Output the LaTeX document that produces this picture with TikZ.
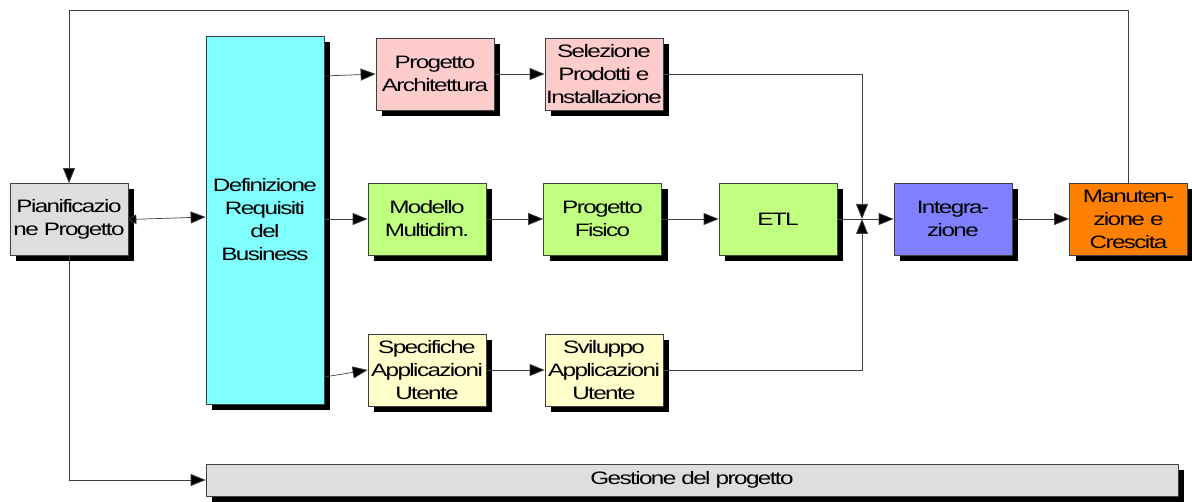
\documentclass[tikz,border=0pt]{standalone}
\usepackage{fontspec}
\usetikzlibrary{arrows.meta,shadows}
\newfontfamily\boxfont[FakeStretch=1.35,LetterSpace=-9]{Liberation Sans}
\definecolor{cyanfill}{HTML}{80FFFF}
\definecolor{pinkfill}{HTML}{FFCCCC}
\definecolor{greenfill}{HTML}{C0FF80}
\definecolor{bluefill}{HTML}{8080FF}
\definecolor{orangefill}{HTML}{FF8000}
\definecolor{yellowfill}{HTML}{FFFFCC}
\definecolor{grayfill}{HTML}{DEDEDE}
\definecolor{edge}{HTML}{404040}
\begin{document}
\begin{tikzpicture}[x=1pt,y=-1pt,
  box/.style={draw=edge, line width=0.7pt, minimum width=118pt, minimum height=72pt,
    align=center, inner sep=1pt,
    font=\boxfont\fontsize{18}{23}\selectfont,
    drop shadow={shadow xshift=6pt, shadow yshift=-6pt, fill=black, opacity=1}},
  arr/.style={draw=edge, line width=0.7pt, arrows={-Triangle[length=15pt,width=12pt,fill=black]}}]
\useasboundingbox (0,0) rectangle (1192,502);

% process boxes
\node[box, fill=grayfill] (pian) at (69,219.5) {Pianificazio\\ne Progetto};
\node[box, fill=cyanfill, minimum height=368pt] (def) at (265,220) {Definizione\\Requisiti\\del\\Business};
\node[box, fill=pinkfill] (arch) at (435,74) {Progetto\\Architettura};
\node[box, fill=pinkfill] (sel) at (604,74) {Selezione\\Prodotti e\\Installazione};
\node[box, fill=greenfill] (mod) at (427,219) {Modello\\Multidim.};
\node[box, fill=greenfill] (fis) at (602.5,219) {Progetto\\Fisico};
\node[box, fill=greenfill] (etl) at (778,219) {ETL};
\node[box, fill=bluefill] (integ) at (953,219) {Integra-\\zione};
\node[box, fill=orangefill] (man) at (1128.5,219) {Manuten-\\zione e\\Crescita};
\node[box, fill=yellowfill] (spec) at (427,370) {Specifiche\\Applicazioni\\Utente};
\node[box, fill=yellowfill] (svil) at (604,370) {Sviluppo\\Applicazioni\\Utente};
\node[box, fill=grayfill, minimum width=972pt, minimum height=32pt] (gest) at (692,480) {Gestione del progetto};

\coordinate (j) at (862,219);

% connectors
\draw[arr] (man.north) -- ++(0,-172) -| (pian.north);
\draw[draw=edge, line width=0.7pt,
  arrows={Triangle[length=8pt,width=10pt,fill=black]-Triangle[length=15pt,width=12pt,fill=black]}]
  (pian.east) -- (def.west |- 0,217);
\draw[arr] (def.east |- 0,76) -- (arch.west);
\draw[arr] (def.east |- 0,219) -- (mod.west);
\draw[arr] (def.east |- 0,377) -- (spec.west);
\draw[arr] (arch) -- (sel);
\draw[arr] (mod) -- (fis);
\draw[arr] (fis) -- (etl);
\draw[arr] (etl) -- (integ);
\draw[arr] (integ) -- (man);
\draw[arr] (spec) -- (svil);
\draw[arr] (sel.east) -| (j);
\draw[arr] (svil.east) -| (j);
\draw[arr] (pian.south) |- (gest.west);
\end{tikzpicture}
\end{document}
